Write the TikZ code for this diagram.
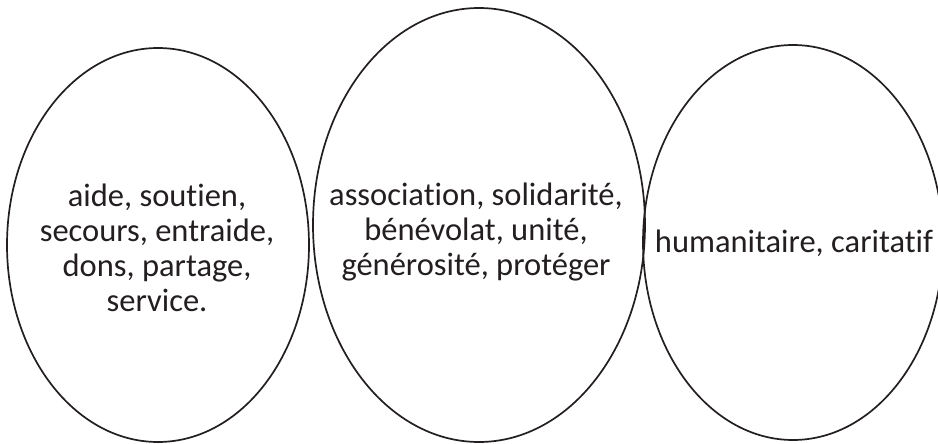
\documentclass[tikz,border=0pt]{standalone}
\usepackage{fontspec}
\setmainfont{Carlito}[RawFeature={-liga;-clig;-dlig}]
\usetikzlibrary{shapes.geometric}
\definecolor{ink}{HTML}{231F20}
\begin{document}
\begin{tikzpicture}[x=1pt,y=-1pt,
  oval/.style={draw=ink,line width=1.7pt,ellipse,inner sep=0pt},
  words/.style={text=ink,align=center,inner sep=0pt,font=\fontsize{32.5}{35}\selectfont}]
\useasboundingbox (0,0) rectangle (938,444);
\fill[white] (0,0) rectangle (938,444);
\node[oval,minimum width=302pt,minimum height=394pt] (e1) at (158,245) {};
\node[oval,minimum width=332pt,minimum height=434pt] (e2) at (479,225) {};
\node[oval,minimum width=300pt,minimum height=395pt] (e3) at (793,242.5) {};
\node[words] (t1) at (157,248) {aide, soutien,\\secours, entraide,\\dons, partage,\\service.};
\node[words] (t2) at (476,232) {association, solidarité,\\bénévolat, unité,\\générosité, protéger};
\node[words] (t3) at (794,243.5) {humanitaire, caritatif};
\end{tikzpicture}
\end{document}
